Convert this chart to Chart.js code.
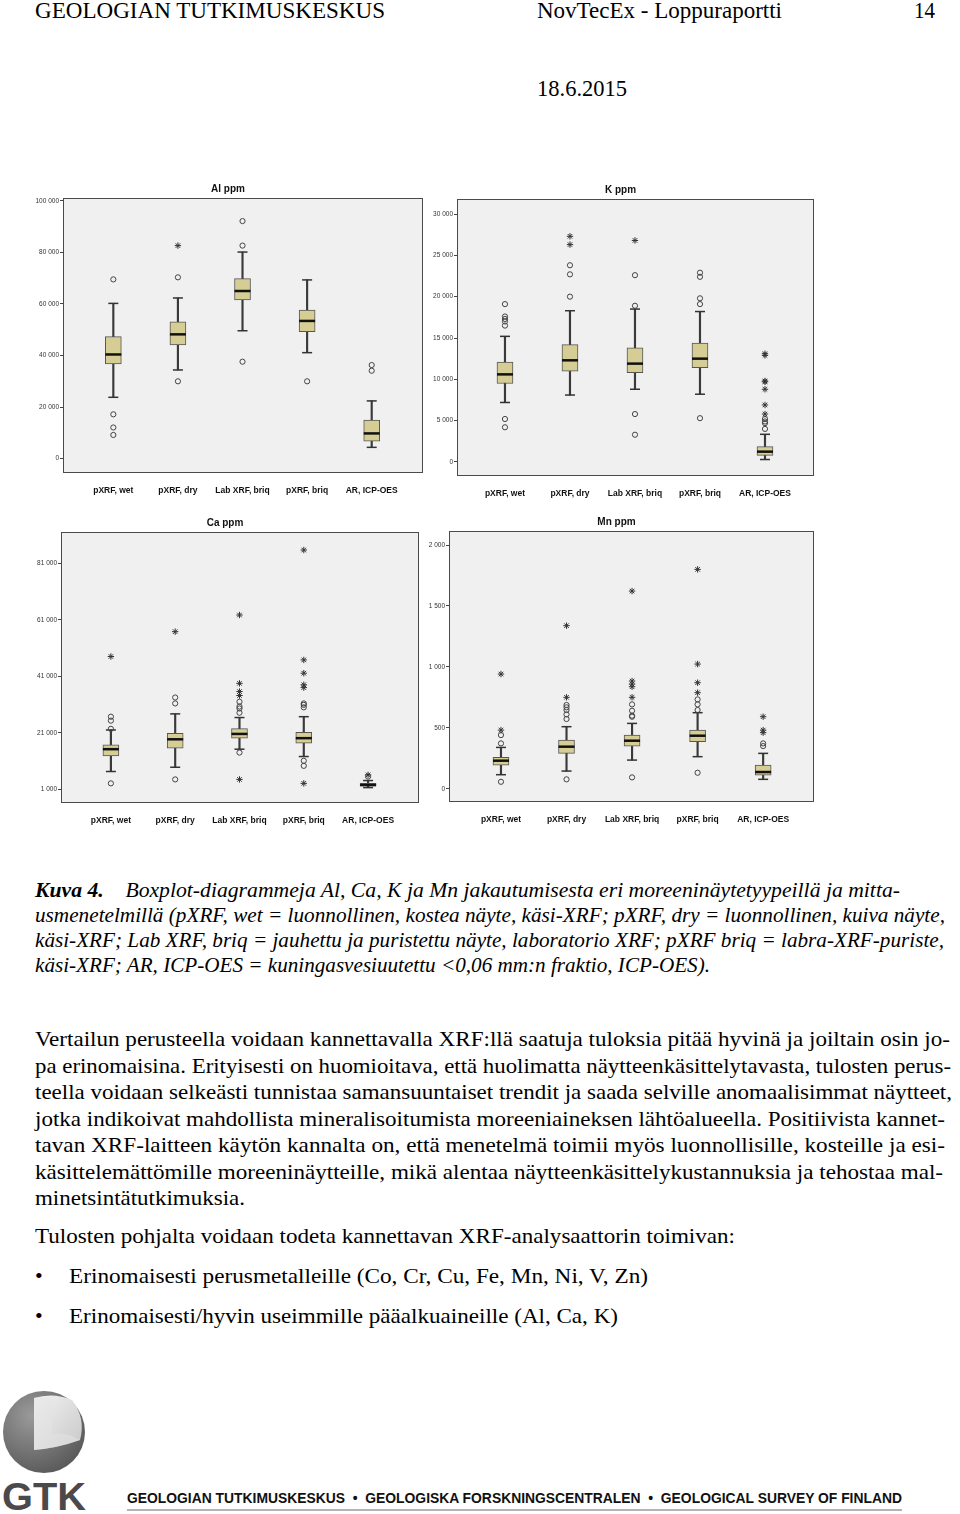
<!DOCTYPE html>
<html>
<head>
<meta charset="utf-8">
<script src="https://cdn.jsdelivr.net/npm/chart.js@4.4.1/dist/chart.umd.min.js"></script>
<style>
  body { margin: 0; background: #fff; }
  #page { position: relative; width: 960px; height: 1514px; overflow: hidden; background: #fff; }
  .ln { position: absolute; white-space: nowrap; font-family: "Liberation Serif", "Times New Roman", serif;
        font-size: 22px; line-height: 1; color: #000; transform-origin: 0 0; }
  .cap { font-style: italic; }
  .box { position: absolute; }
  #footer { position: absolute; left: 127px; top: 1490px; white-space: nowrap; font-family: "Liberation Sans", Arial, sans-serif;
            font-weight: bold; font-size: 15px; line-height: 1; color: #111; transform-origin: 0 0; }
  #footline { position: absolute; left: 127px; top: 1509px; width: 775px; height: 2px; background: #b4b4b4; }
</style>
</head>
<body>
<div id="page">
  <div class="ln" data-w="350" style="left:35px;top:-2px;font-size:24px">GEOLOGIAN TUTKIMUSKESKUS</div>
  <div class="ln" data-w="245" style="left:537px;top:-2px;font-size:24px">NovTecEx - Loppuraportti</div>
  <div class="ln" data-w="21" style="left:914px;top:-2px;font-size:24px">14</div>
  <div class="ln" data-w="90" style="left:537px;top:76px;font-size:24px">18.6.2015</div>

  <canvas class="box" id="alChart"></canvas>
  <canvas class="box" id="kChart"></canvas>
  <canvas class="box" id="caChart"></canvas>
  <canvas class="box" id="mnChart"></canvas>

  <div class="ln cap" data-w="865" style="left:35px;top:879px"><b>Kuva 4.</b>&nbsp;&nbsp;&nbsp; Boxplot-diagrammeja Al, Ca, K ja Mn jakautumisesta eri moreeninäytetyypeillä ja mitta-</div>
  <div class="ln cap" data-w="910" style="left:35px;top:904px">usmenetelmillä (pXRF, wet = luonnollinen, kostea näyte, käsi-XRF; pXRF, dry = luonnollinen, kuiva näyte,</div>
  <div class="ln cap" data-w="909" style="left:35px;top:929px">käsi-XRF; Lab XRF, briq = jauhettu ja puristettu näyte, laboratorio XRF; pXRF briq = labra-XRF-puriste,</div>
  <div class="ln cap" data-w="675" style="left:35px;top:954px">käsi-XRF; AR, ICP-OES = kuningasvesiuutettu &lt;0,06 mm:n fraktio, ICP-OES).</div>

  <div class="ln" data-w="915" style="left:35px;top:1028px">Vertailun perusteella voidaan kannettavalla XRF:llä saatuja tuloksia pitää hyvinä ja joiltain osin jo-</div>
  <div class="ln" data-w="916" style="left:35px;top:1055px">pa erinomaisina. Erityisesti on huomioitava, että huolimatta näytteenkäsittelytavasta, tulosten perus-</div>
  <div class="ln" data-w="917" style="left:35px;top:1081px">teella voidaan selkeästi tunnistaa samansuuntaiset trendit ja saada selville anomaalisimmat näytteet,</div>
  <div class="ln" data-w="910" style="left:35px;top:1108px">jotka indikoivat mahdollista mineralisoitumista moreeniaineksen lähtöalueella. Positiivista kannet-</div>
  <div class="ln" data-w="910" style="left:35px;top:1134px">tavan XRF-laitteen käytön kannalta on, että menetelmä toimii myös luonnollisille, kosteille ja esi-</div>
  <div class="ln" data-w="908" style="left:35px;top:1161px">käsittelemättömille moreeninäytteille, mikä alentaa näytteenkäsittelykustannuksia ja tehostaa mal-</div>
  <div class="ln" data-w="210" style="left:35px;top:1187px">minetsintätutkimuksia.</div>

  <div class="ln" data-w="700" style="left:35px;top:1225px">Tulosten pohjalta voidaan todeta kannettavan XRF-analysaattorin toimivan:</div>
  <div class="ln" style="left:35px;top:1265px">•</div>
  <div class="ln" data-w="579" style="left:69px;top:1265px">Erinomaisesti perusmetalleille (Co, Cr, Cu, Fe, Mn, Ni, V, Zn)</div>
  <div class="ln" style="left:35px;top:1305px">•</div>
  <div class="ln" data-w="549" style="left:69px;top:1305px">Erinomaisesti/hyvin useimmille pääalkuaineille (Al, Ca, K)</div>

  <svg class="box" style="left:0;top:1388px" width="92" height="126" viewBox="0 0 92 126">
    <defs>
      <radialGradient id="sph" cx="0.35" cy="0.3" r="0.8">
        <stop offset="0" stop-color="#9a9a9a"/>
        <stop offset="1" stop-color="#555"/>
      </radialGradient>
      <linearGradient id="cut" x1="0" y1="0" x2="1" y2="1">
        <stop offset="0" stop-color="#f2f2f2"/>
        <stop offset="1" stop-color="#c8c8c8"/>
      </linearGradient>
    </defs>
    <ellipse cx="44" cy="44" rx="41" ry="41" fill="url(#sph)"/>
    <path d="M34 10 L34 62 Q58 60 80 52 Q86 30 72 12 Q54 4 34 10 Z" fill="url(#cut)"/>
    <path d="M34 10 Q44 8 52 12 L52 46 Q66 44 80 52 Q58 60 34 62 Z" fill="#e4e4e4" opacity="0.5"/>
    <text x="2" y="122" font-family="Liberation Sans, Arial, sans-serif" font-weight="bold" font-size="38" fill="#4a4a4a" textLength="84" lengthAdjust="spacingAndGlyphs">GTK</text>
  </svg>
  <div id="footer" data-w="775">GEOLOGIAN TUTKIMUSKESKUS&nbsp; •&nbsp; GEOLOGISKA FORSKNINGSCENTRALEN&nbsp; •&nbsp; GEOLOGICAL SURVEY OF FINLAND</div>
  <div id="footline"></div>
</div>

<script>
// categories shared by all four panels
const categories = ['pXRF, wet', 'pXRF, dry', 'Lab XRF, briq', 'pXRF, briq', 'AR, ICP-OES'];

// Al ppm
const alLow = [23800, 34400, 49600, 41100, 4400];
const alQ1 = [36700, 44100, 61500, 49200, 6800];
const alMedian = [40400, 48200, 65000, 53400, 9800];
const alQ3 = [47300, 53100, 69800, 57600, 15000];
const alHigh = [60200, 62300, 80100, 69300, 22400];
const alOutliers = [[69500, 17200, 12100, 9200], [70300, 30000], [92100, 82600, 37600], [30000], [36300, 34100]];
const alExtremes = [[], [82600], [], [], []];
const alTicks = [0, 20000, 40000, 60000, 80000, 100000];

// K ppm
const kLow = [7200, 8100, 8800, 8200, 300];
const kQ1 = [9500, 11000, 10800, 11400, 800];
const kMedian = [10600, 12300, 11900, 12500, 1250];
const kQ3 = [12100, 14200, 13800, 14400, 1850];
const kHigh = [15200, 18300, 18500, 18200, 3350];
const kOutliers = [[19100, 17600, 17300, 17000, 16500, 5200, 4200], [23800, 22700, 20000], [22600, 18900, 5800, 3300],
                   [22900, 22400, 19800, 19100, 5300], [5200, 4900, 4700, 4000]];
const kExtremes = [[], [27300, 26300], [26800], [], [13100, 12900, 9800, 9700, 8800, 6900, 5800]];
const kTicks = [0, 5000, 10000, 15000, 20000, 25000, 30000];

// Ca ppm
const caLow = [7300, 8800, 15200, 12600, 1600];
const caQ1 = [12800, 15600, 19100, 17300, 2200];
const caMedian = [15200, 18700, 20600, 19100, 2500];
const caQ3 = [16700, 20800, 22500, 21200, 3100];
const caHigh = [22000, 27700, 26400, 26700, 4100];
const caOutliers = [[26700, 25300, 22400, 3100], [33500, 31400, 4500], [32000, 30300, 29600, 28100, 14000],
                    [31400, 30900, 30000, 11100, 9300], [5500]];
const caExtremes = [[48000], [56800], [62700, 38500, 35600, 34200, 4500], [85700, 46800, 42100, 38000, 37000, 3100], [6100]];
const caTicks = [1000, 21000, 41000, 61000, 81000];

// Mn ppm
const mnLow = [115, 145, 235, 263, 77];
const mnQ1 = [194, 290, 350, 386, 112];
const mnMedian = [230, 345, 394, 435, 137];
const mnQ3 = [257, 399, 440, 481, 194];
const mnHigh = [339, 509, 536, 624, 290];
const mnOutliers = [[440, 372, 57], [687, 668, 646, 610, 572, 77], [692, 640, 599, 591, 93], [733, 692, 646, 131], [372, 350]];
const mnExtremes = [[941, 481], [1338, 750], [1622, 884, 859, 837, 750], [1800, 1023, 870, 788], [591, 481, 460]];
const mnTicks = [0, 500, 1000, 1500, 2000];

// axis width also sets where the title lands (title is centred over axis + plot)
const AXIS_W = 30, TITLE_H = 22, XAXIS_H = 22, RIGHT_PAD = 26;

const plotFrame = {
    id: 'plotFrame',
    beforeDatasetsDraw(chart) {
        const a = chart.chartArea, ctx = chart.ctx;
        ctx.save();
        ctx.fillStyle = '#f0f0f0';
        ctx.fillRect(a.left, a.top, a.right - a.left, a.bottom - a.top);
        ctx.restore();
    },
    afterDraw(chart) {
        const a = chart.chartArea, ctx = chart.ctx;
        ctx.save();
        ctx.strokeStyle = '#4a4a4a';
        ctx.lineWidth = 1;
        ctx.strokeRect(Math.round(a.left) + 0.5, Math.round(a.top) + 0.5,
            Math.round(a.right - a.left) - 1, Math.round(a.bottom - a.top) - 1);
        ctx.restore();
    }
};

function fmt(v) {
    return String(v).replace(/\B(?=(\d{3})+(?!\d))/g, ' ');
}

function points(values) {
    return values.map((v, i) => ({x: i, y: v}));
}

function groupPoints(groups) {
    const out = [];
    groups.forEach((g, i) => g.forEach(v => out.push({x: i, y: v})));
    return out;
}

function boxDatasets(low, q1, median, q3, high, outliers, extremes) {
    return [
        {type: 'scatter', data: groupPoints(extremes), pointStyle: 'star', radius: 3.2,
            borderColor: '#333', borderWidth: 1, clip: false},
        {type: 'scatter', data: groupPoints(outliers), pointStyle: 'circle', radius: 2.6,
            borderColor: '#444', backgroundColor: 'rgba(0,0,0,0)', borderWidth: 1, clip: false},
        {type: 'scatter', data: points(median), pointStyle: 'line', radius: 8,
            borderColor: '#111', borderWidth: 2.5},
        {type: 'scatter', data: points(low).concat(points(high)), pointStyle: 'line', radius: 5,
            borderColor: '#333', borderWidth: 1.5},
        {type: 'bar', data: q1.map((v, i) => ({x: i, y: [v, q3[i]]})), barThickness: 16, grouped: false,
            backgroundColor: '#d6cd94', borderColor: '#555', borderWidth: 1, borderSkipped: false},
        {type: 'bar', data: low.map((v, i) => ({x: i, y: [v, high[i]]})), barThickness: 1.5, grouped: false,
            backgroundColor: '#3a3a3a', borderWidth: 0}
    ];
}

function boxChart(id, title, frame, xRange, yRange, yTicks, datasets) {
    const canvas = document.getElementById(id);
    const w = frame.right - frame.left + AXIS_W + RIGHT_PAD;
    const h = frame.bottom - frame.top + TITLE_H + XAXIS_H;
    canvas.style.left = (frame.left - AXIS_W) + 'px';
    canvas.style.top = (frame.top - TITLE_H) + 'px';
    canvas.style.width = w + 'px';
    canvas.style.height = h + 'px';
    canvas.width = w;
    canvas.height = h;

    return new Chart(canvas, {
        type: 'scatter',
        data: {datasets: datasets},
        plugins: [plotFrame],
        options: {
            responsive: false,
            animation: false,
            events: [],
            layout: {padding: {left: 0, right: RIGHT_PAD, top: 0, bottom: 0}},
            plugins: {
                legend: {display: false},
                tooltip: {enabled: false},
                title: {
                    display: true, text: title, color: '#111',
                    font: {family: 'Arial, "Liberation Sans", sans-serif', size: 10, weight: 'bold', lineHeight: 1.2},
                    padding: {top: 7, bottom: 3}
                }
            },
            scales: {
                x: {
                    type: 'linear', min: xRange[0], max: xRange[1], offset: false,
                    afterBuildTicks: s => { s.ticks = categories.map((_, i) => ({value: i})); },
                    afterFit: s => { s.height = XAXIS_H; },
                    grid: {display: false, offset: false},
                    border: {display: false},
                    ticks: {
                        callback: v => categories[v], autoSkip: false, maxRotation: 0, padding: 5,
                        color: '#111', font: {family: 'Arial, "Liberation Sans", sans-serif', size: 8.5, weight: 'bold'}
                    }
                },
                y: {
                    min: yRange[0], max: yRange[1],
                    afterBuildTicks: s => { s.ticks = yTicks.map(v => ({value: v})); },
                    afterFit: s => { s.width = AXIS_W; },
                    grid: {drawOnChartArea: false, drawTicks: true, tickLength: 3, color: '#444'},
                    border: {display: false},
                    ticks: {
                        callback: v => fmt(v), padding: 1, color: '#333',
                        font: {family: 'Arial, "Liberation Sans", sans-serif', size: 6.5}
                    }
                }
            }
        }
    });
}

boxChart('alChart', 'Al ppm', {left: 63, top: 198, right: 423, bottom: 473}, [-0.779, 4.794], [-5543, 101050], alTicks,
    boxDatasets(alLow, alQ1, alMedian, alQ3, alHigh, alOutliers, alExtremes));
boxChart('kChart', 'K ppm', {left: 457, top: 199, right: 814, bottom: 476}, [-0.738, 4.754], [-1694, 31815], kTicks,
    boxDatasets(kLow, kQ1, kMedian, kQ3, kHigh, kOutliers, kExtremes));
boxChart('caChart', 'Ca ppm', {left: 61, top: 532, right: 419, bottom: 803}, [-0.776, 4.792], [-3850, 92080], caTicks,
    boxDatasets(caLow, caQ1, caMedian, caQ3, caHigh, caOutliers, caExtremes));
boxChart('mnChart', 'Mn ppm', {left: 449, top: 531, right: 814, bottom: 802}, [-0.793, 4.776], [-109, 2115], mnTicks,
    boxDatasets(mnLow, mnQ1, mnMedian, mnQ3, mnHigh, mnOutliers, mnExtremes));

// squeeze each text line to the width it has on the page
document.querySelectorAll('[data-w]').forEach(el => {
    const natural = el.getBoundingClientRect().width;
    el.style.transform = 'scaleX(' + (Number(el.dataset.w) / natural) + ')';
});
</script>
</body>
</html>
